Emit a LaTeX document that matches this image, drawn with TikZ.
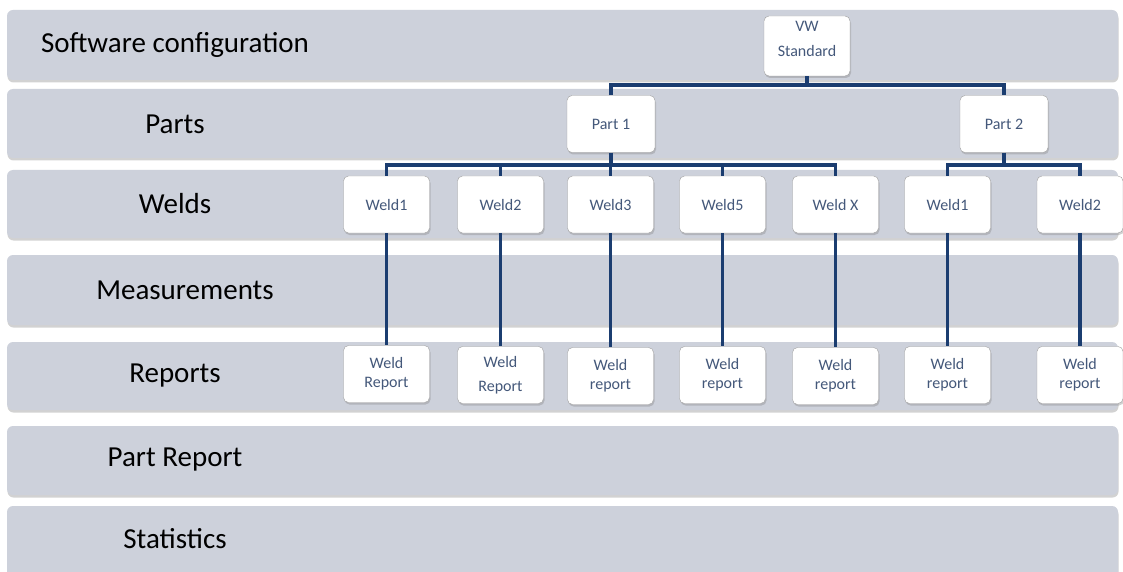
\documentclass[tikz,border=0pt]{standalone}
\usepackage{fontspec}
\setmainfont{Carlito}
\usetikzlibrary{shadows,calc}
\definecolor{bandgray}{HTML}{CDD1DB}
\definecolor{linknavy}{HTML}{1B3D70}
\definecolor{boxtext}{HTML}{44587A}
\tikzset{
  band/.style={fill=bandgray, rounded corners=6pt,
    drop shadow={opacity=0.35, shadow xshift=0.5pt, shadow yshift=-2.5pt}},
  bandlabel/.style={font=\fontsize{29}{33}\selectfont, text=black},
  box/.style={draw=gray!75, fill=white, rounded corners=5pt,
    minimum width=86pt, minimum height=57pt, align=center, text=boxtext,
    font=\fontsize{16}{19}\selectfont,
    drop shadow={opacity=0.35, shadow xshift=1pt, shadow yshift=-2pt}},
  link/.style={draw=linknavy, line width=3.8pt}
}

\begin{document}
\begin{tikzpicture}[x=1pt,y=-1pt]
   \clip (0,0) rectangle (1123,572);
   \fill[white] (0,0) rectangle (1123,572);

   % layers
   \foreach \top/\bot/\ly/\lx/\txt/\nm in {10/80/45/175/Software configuration/lsoft,
       89/158/124/175/Parts/lparts, 170/238/204/175/Welds/lwelds,
       255/325/290/185/Measurements/lmeas, 342/410/376/175/Reports/lrep,
       426/495/460/175/Part Report/lpartrep, 506/590/539/175/Statistics/lstat}{
     \fill[band] (7,\top) rectangle (1118,\bot);
     \node[bandlabel] (\nm) at (\lx,\ly) {\txt};
   }

   % tree
   \node[box, minimum height=60pt] (vw) at (807,46) {VW\\[6pt]Standard\\[-4pt]};
   \node[box, minimum width=88pt] (part1) at (611,124) {Part 1};
   \node[box, minimum width=88pt] (part2) at (1004,124) {Part 2};

   \node[box] (w1) at (386.5,204.5) {Weld1};
   \node[box] (w2) at (500.5,204.5) {Weld2};
   \node[box] (w3) at (610.5,204.5) {Weld3};
   \node[box] (w4) at (722.5,204.5) {Weld5};
   \node[box] (w5) at (835.5,204.5) {Weld X};
   \node[box] (w6) at (947.5,204.5) {Weld1};
   \node[box] (w7) at (1080,204.5) {Weld2};

   \node[box] (r1) at (386.5,374) {Weld\\Report};
   \node[box] (r2) at (500.5,375) {Weld\\[5pt]Report};
   \node[box] (r3) at (610.5,376) {Weld\\report};
   \node[box] (r4) at (722.5,375) {Weld\\report};
   \node[box] (r5) at (835.5,376) {Weld\\report};
   \node[box] (r6) at (947.5,375) {Weld\\report};
   \node[box] (r7) at (1080,375) {Weld\\report};

   \coordinate (busA) at ($(vw.south)+(0,9)$);
   \coordinate (busB) at ($(part1.south)+(0,12)$);
   \coordinate (busC) at ($(part2.south)+(0,12)$);

   \draw[link] (vw.south) -- (busA);
   \draw[link] (part1.north) |- (busA) -| (part2.north);

   \draw[link] (part1.south) -- (busB);
   \draw[link] (w1.north) |- (busB) -| (w5.north);
   \foreach \w in {w2,w3,w4}
     \draw[link] (\w.north) -- (\w.north |- busB);

   \draw[link] (part2.south) -- (busC);
   \draw[link] (w6.north) |- (busC) -| (w7.north);

   \foreach \i in {1,...,7}
     \draw[link] (w\i.south) -- (r\i.north);
\end{tikzpicture}
\end{document}
